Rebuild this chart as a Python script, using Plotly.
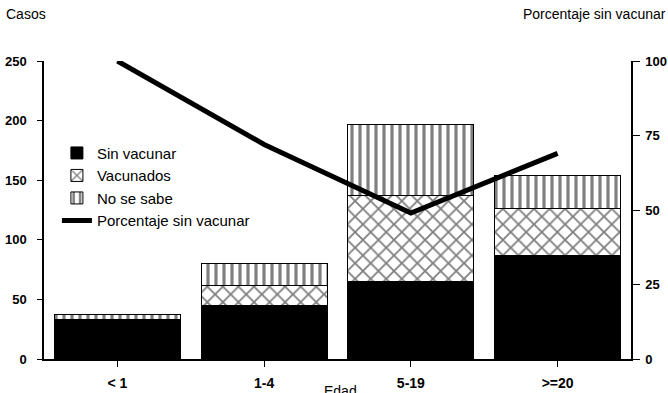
import plotly.graph_objects as go

categorias = ["< 1", "1-4", "5-19", ">=20"]
sin_vacunar = [33, 45, 65, 87]
vacunados = [0, 17, 72, 39]
no_se_sabe = [4, 18, 60, 28]
porcentaje_sin_vacunar = [100, 72, 49, 69]

FONT = "Liberation Sans, Arial, sans-serif"

fig = go.Figure()
fig.add_trace(go.Bar(
    x=categorias, y=sin_vacunar, name="Sin vacunar",
    marker=dict(color="black", line=dict(color="black", width=1)),
))
fig.add_trace(go.Bar(
    x=categorias, y=vacunados, name="Vacunados",
    marker=dict(color="white", line=dict(color="black", width=1),
                pattern=dict(shape="x", fgcolor="black", bgcolor="white",
                             size=11, solidity=0.3)),
))
fig.add_trace(go.Bar(
    x=categorias, y=no_se_sabe, name="No se sabe",
    marker=dict(color="white", line=dict(color="black", width=1),
                pattern=dict(shape="|", fgcolor="black", bgcolor="white",
                             size=8, solidity=0.4)),
))
fig.add_trace(go.Scatter(
    x=categorias, y=porcentaje_sin_vacunar, name="Porcentaje sin vacunar",
    mode="lines", line=dict(color="black", width=5), yaxis="y2",
))

fig.update_layout(
    width=668, height=393, autosize=False,
    margin=dict(l=44, r=37, t=61, b=34, autoexpand=False),
    paper_bgcolor="white", plot_bgcolor="white",
    barmode="stack", bargap=0.14,
    font=dict(family=FONT, size=14, color="black"),
    showlegend=True,
    legend=dict(x=0.022, y=0.746, xanchor="left", yanchor="top",
                traceorder="normal", bgcolor="rgba(0,0,0,0)",
                font=dict(size=15), itemwidth=30, tracegroupgap=0),
    xaxis=dict(showline=True, linecolor="black", linewidth=1.5,
               ticks="outside", ticklen=6, tickcolor="black",
               tickfont=dict(size=14, weight="bold"), ticklabelstandoff=4,
               showgrid=False, zeroline=False, automargin=False),
    yaxis=dict(range=[0, 250], tickvals=[0, 50, 100, 150, 200, 250],
               showline=True, linecolor="black", linewidth=1.5,
               ticks="outside", ticklen=5, tickcolor="black",
               tickfont=dict(size=13, weight="bold"), ticklabelstandoff=8,
               showgrid=False, zeroline=False, automargin=False),
    yaxis2=dict(range=[0, 100], tickvals=[0, 25, 50, 75, 100],
                overlaying="y", side="right",
                showline=True, linecolor="black", linewidth=1.5,
                ticks="outside", ticklen=7, tickcolor="black",
                tickfont=dict(size=13, weight="bold"), ticklabelstandoff=3,
                showgrid=False, zeroline=False, automargin=False),
    annotations=[
        dict(text="Casos", xref="paper", yref="paper", x=-40/587, y=1 + 47/298,
             xanchor="left", yanchor="middle", showarrow=False,
             font=dict(size=14)),
        dict(text="Porcentaje sin vacunar", xref="paper", yref="paper",
             x=(521 - 44)/587, y=1 + 47/298,
             xanchor="left", yanchor="middle", showarrow=False,
             font=dict(size=14)),
        dict(text="Edad", xref="paper", yref="paper",
             x=(341 - 44)/587, y=-32/298,
             xanchor="center", yanchor="middle", showarrow=False,
             font=dict(size=14)),
    ],
)

fig.write_html("out.html", config={"displayModeBar": False},
               post_script="document.body.style.margin='0';")
